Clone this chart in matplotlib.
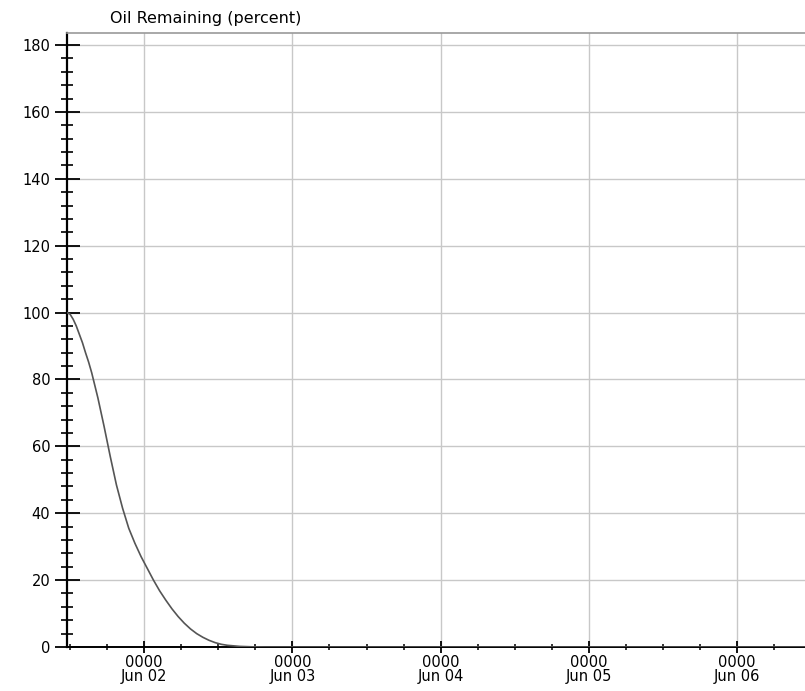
import datetime as dt
import matplotlib
matplotlib.use('Agg')
import matplotlib.pyplot as plt
import matplotlib.dates as mdates
from matplotlib.ticker import MultipleLocator

# oil remaining after release, hours since 01 Jun 11:30
start = dt.datetime(2000, 6, 1, 11, 30)
hours = [0, 0.5, 1, 1.5, 2, 2.5, 3, 3.5, 4, 5, 6, 7, 8, 9, 10, 11, 12, 13,
         14, 15, 16, 17, 18, 19, 20, 21, 22, 23, 24, 25, 26, 28, 30, 32, 60,
         90, 120]
oil_pct = [100, 99.5, 98, 96, 93.5, 91, 88, 85.2, 82, 74.5, 66, 57, 48.5,
           41.5, 35.5, 31, 27, 23.5, 20, 16.8, 14, 11.4, 9.1, 7.1, 5.4, 4,
           2.9, 2, 1.3, 0.8, 0.5, 0.18, 0.05, 0, 0, 0, 0]
y_ticks = [0, 20, 40, 60, 80, 100, 120, 140, 160, 180]

times = [start + dt.timedelta(hours=h) for h in hours]

plt.rcParams['font.family'] = 'DejaVu Sans'

fig = plt.figure(figsize=(8.05, 6.91), dpi=100)
ax = fig.add_axes([67 / 805, 1 - 647 / 691, 1 - 67 / 805, (647 - 33) / 691])

ax.plot(times, oil_pct, color='#555555', lw=1.2, zorder=3)

ax.set_xlim(start, start + dt.timedelta(hours=119.5))
ax.set_ylim(0, 183.6)

ax.xaxis.set_major_locator(mdates.DayLocator())
ax.xaxis.set_minor_locator(mdates.HourLocator(byhour=[6, 12, 18]))
ax.xaxis.set_major_formatter(mdates.DateFormatter('%H%M\n%b %d'))
ax.set_yticks(y_ticks)
ax.yaxis.set_minor_locator(MultipleLocator(4))

ax.grid(True, which='major', color='#c8c8c8', lw=1.0)

ax.spines['right'].set_visible(False)
ax.spines['top'].set_color('#9a9a9a')
ax.spines['top'].set_linewidth(1.2)
ax.spines['left'].set_linewidth(1.6)
ax.spines['bottom'].set_linewidth(1.4)

ax.tick_params(axis='y', which='major', direction='inout', length=18,
               width=1.3, labelsize=10.5, pad=3, colors='black')
ax.tick_params(axis='y', which='minor', direction='inout', length=8, width=1.2)
ax.tick_params(axis='x', which='major', direction='inout', length=9,
               width=1.3, labelsize=10.5, pad=1)
ax.tick_params(axis='x', which='minor', direction='inout', length=5, width=1.1)
for lab in ax.get_xticklabels():
    lab.set_linespacing(0.95)

fig.text(110 / 805, 1 - 19 / 691, 'Oil Remaining (percent)', fontsize=11.5,
         ha='left', va='center')

fig.savefig('out.png', dpi=100)
